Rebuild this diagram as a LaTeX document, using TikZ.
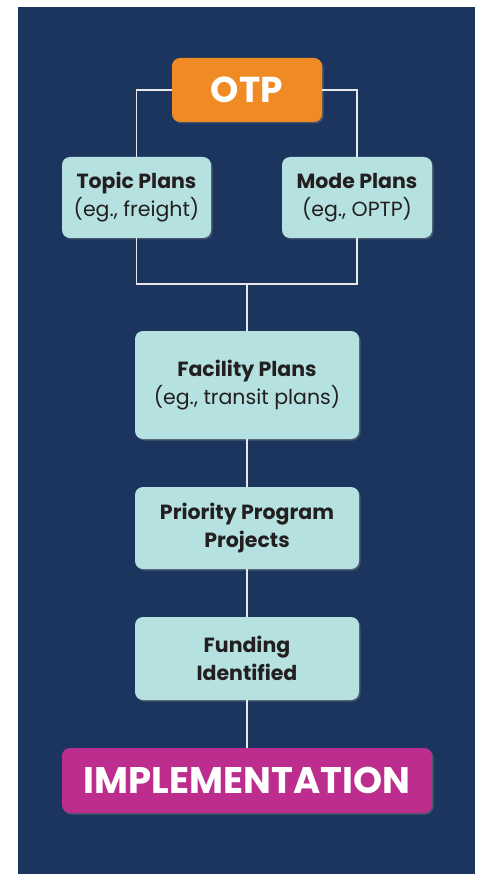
\documentclass[tikz,border=0pt]{standalone}
\usepackage{fontspec}
\setmainfont{Poppins}
\usetikzlibrary{shadows}

\definecolor{navy}{HTML}{1B355E}
\definecolor{paleteal}{HTML}{B5E1E1}
\definecolor{otporange}{HTML}{F08A24}
\definecolor{implpink}{HTML}{BC2D8E}
\definecolor{inkdark}{HTML}{231F20}
\definecolor{linkgray}{HTML}{E6E8EA}

\tikzset{
  plan/.style={fill=paleteal, rounded corners=8pt, text=inkdark, align=center,
    inner sep=0pt, font=\fontsize{20.5}{28}\selectfont,
    drop shadow={shadow xshift=1.5pt, shadow yshift=-1.5pt, opacity=0.45}},
  headbox/.style={rounded corners=8pt, text=white, inner sep=0pt, font=\bfseries,
    drop shadow={shadow xshift=1.5pt, shadow yshift=-1.5pt, opacity=0.45}},
  link/.style={draw=linkgray, line width=1.8pt}
}

\begin{document}
\begin{tikzpicture}[x=1pt, y=-1pt]
	\useasboundingbox (0,0) rectangle (477,874);
	\fill[white] (0,0) rectangle (477,874);
	\fill[navy] (18,7) rectangle (475,874);
	% boxes
	\node[headbox, fill=otporange, minimum width=150pt, minimum height=64pt,
	  font=\bfseries\fontsize{36}{38}\selectfont] (otp) at (247,90) {OTP};
	\node[plan, minimum width=149pt, minimum height=81pt] (topic) at (136.5,197.5)
	  {\textbf{Topic Plans}\\(eg., freight)};
	\node[plan, minimum width=150pt, minimum height=81pt] (mode) at (357,197.5)
	  {\textbf{Mode Plans}\\(eg., OPTP)};
	\coordinate (join) at (247,284);
	\node[plan, minimum width=224pt, minimum height=108pt] (facility) at (247,385)
	  {\textbf{Facility Plans}\\(eg., transit plans)};
	\node[plan, minimum width=224pt, minimum height=82pt] (priority) at (247,528)
	  {\textbf{Priority Program}\\\textbf{Projects}};
	\node[plan, minimum width=224pt, minimum height=83pt] (funding) at (247,658.5)
	  {\textbf{Funding}\\\textbf{Identified}};
	\node[headbox, fill=implpink, minimum width=370pt, minimum height=65pt,
	  font=\bfseries\fontsize{37}{40}\selectfont] (impl) at (247,780.5) {IMPLEMENTATION};
	% connectors
	\draw[link] (otp.west) -| (topic.north);
	\draw[link] (otp.east) -| (mode.north);
	\draw[link] (topic.south) |- (join) -| (mode.south);
	\draw[link] (join) -- (facility.north);
	\draw[link] (facility) -- (priority);
	\draw[link] (priority) -- (funding);
	\draw[link] (funding) -- (impl);
\end{tikzpicture}
\end{document}
